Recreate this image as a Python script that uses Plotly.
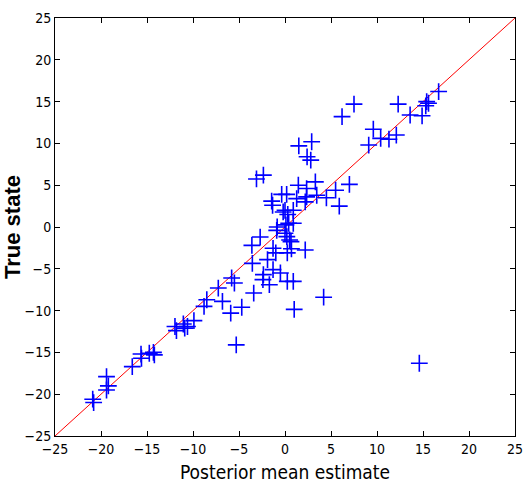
import plotly.graph_objects as go

estimate = [
    -20.9, -20.8, -19.4, -19.2, -19.4, -16.6, -15.65, -15.6, -14.75, -14.3,
    -14.2, -11.96, -11.8, -11.05, -10.9, -10.6, -9.9, -8.8, -8.5, -6.8,
    -5.9, -4.7, -5.3, -7.25, -5.8, -5.5, -3.4, -3.55, -3.6, -2.7,
    -1.9, -2.35, -2.4, -1.7, -1.3, -0.5, -1.3, -1.0, 0.25, 0.9,
    0.25, 0.7, 0.5, 0.2, 0.65, -0.85, 0.1, 0.4, 0.0, 2.2,
    4.2, 1.0, 7.5, 6.2, 9.6, 9.1, 2.9, 1.5, 2.4, 2.8,
    -3.1, -2.35, -1.45, -1.35, -0.36, 0.18, 1.45, 2.35, 3.3, 1.27,
    2.35, 3.45, 2.2, 0.0, 0.9, -0.2, 0.3, 4.5, 5.5, 7.0,
    5.9, 12.3, 13.6, 14.9, 15.4, 15.6, 15.3, 16.7, 10.4, 11.3,
    12.1, 14.6, -0.9, 0.9,
]
true_state = [
    -20.6, -21.0, -17.9, -19.0, -19.5, -16.7, -15.2, -15.7, -15.1, -15.0,
    -15.3, -11.9, -12.4, -11.6, -12.1, -11.9, -11.2, -9.5, -8.7, -8.9,
    -10.3, -9.6, -14.1, -7.3, -6.1, -6.7, -7.9, -4.35, -2.2, -1.2,
    -3.9, -5.7, -6.3, -6.9, -5.1, -5.5, -2.55, -3.1, -6.5, -6.5,
    -3.1, -2.6, -1.55, -1.15, -1.75, 0.0, 0.25, 0.45, -0.75, -2.75,
    -8.4, -9.85, 14.7, 13.2, 11.7, 9.8, 10.2, 9.7, 8.4, 8.0,
    5.75, 6.2, 3.1, 2.6, 3.9, 3.9, 5.0, 4.6, 5.4, 3.4,
    3.6, 3.8, 3.0, 2.0, 2.0, 1.8, 1.5, 3.5, 4.4, 5.1,
    2.5, 14.7, 13.4, 13.3, 15.0, 14.8, 14.5, 16.2, 10.6, 10.5,
    11.0, -16.3, -0.4, 0.44,
]
diag = [-25, 25]
tick_vals = [-25, -20, -15, -10, -5, 0, 5, 10, 15, 20, 25]

font_family = "DejaVu Sans Condensed, Liberation Sans Narrow, Arial Narrow, sans-serif"

fig = go.Figure()
fig.add_trace(go.Scatter(
    x=diag, y=diag, mode="lines",
    line=dict(color="#ff0000", width=1), showlegend=False,
))
fig.add_trace(go.Scatter(
    x=estimate, y=true_state, mode="markers",
    marker=dict(symbol="cross-thin-open", size=12, color="#0000ff",
                line=dict(color="#0000ff", width=1.6)),
    showlegend=False,
))

axis_common = dict(
    range=[-25, 25], tickvals=tick_vals, ticks="inside", ticklen=5,
    tickcolor="black", tickwidth=1, showline=True, linecolor="black",
    linewidth=1, mirror="ticks", showgrid=False, zeroline=False,
    automargin=False,
    tickfont=dict(family=font_family, size=14, color="black"),
)

fig.update_layout(
    width=525, height=497,
    margin=dict(l=55, r=10, t=18, b=61),
    paper_bgcolor="white", plot_bgcolor="white",
    xaxis=dict(**axis_common,
               title=dict(text="Posterior mean estimate",
                          font=dict(family=font_family, size=19, color="black"),
                          standoff=9)),
    yaxis=dict(**axis_common,
               title=dict(text="<b>True state</b>",
                          font=dict(family="Liberation Sans, Arial, sans-serif", size=22, color="black"),
                          standoff=3)),
)

fig.write_html(
    "out.html",
    config={"displayModeBar": False},
    post_script="document.body.style.margin='0';document.body.style.overflow='hidden';",
)
